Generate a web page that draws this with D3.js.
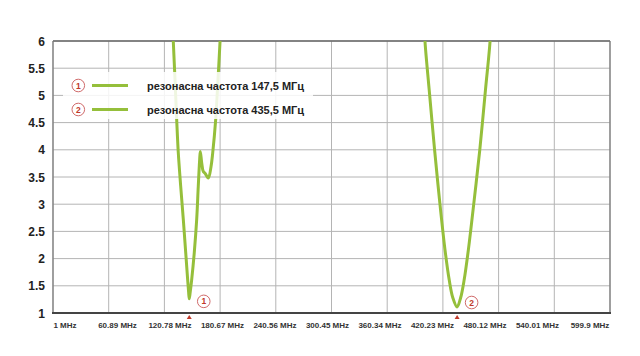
<!DOCTYPE html>
<html><head><meta charset="utf-8">
<script src="https://cdn.jsdelivr.net/npm/d3@7"></script>
<style>
html,body{margin:0;padding:0;background:#fff;}
svg{display:block;font-family:"Liberation Sans",Arial,sans-serif;}
</style></head>
<body><svg id="c" width="640" height="356"></svg>
<script>
// ---- data ----
const xTickValues = [1, 60.89, 120.78, 180.67, 240.56, 300.45, 360.34, 420.23, 480.12, 540.01, 599.9];
const xTickLabels = ["1 MHz","60.89 MHz","120.78 MHz","180.67 MHz","240.56 MHz","300.45 MHz","360.34 MHz","420.23 MHz","480.12 MHz","540.01 MHz","599.9 MHz"];
const yTickValues = [1,1.5,2,2.5,3,3.5,4,4.5,5,5.5,6];
const yTickLabels = ["1","1.5","2","2.5","3","3.5","4","4.5","5","5.5","6"];
// series 1 (MHz, VSWR)
const s1Freq = [130.0,130.35,132.2,134.0,135.7,138.3,141.1,143.7,145.8,146.8,147.5,148.5,150.1,152.9,155.5,157.2,158.7,159.4,160.9,162.6,164.4,168.0,170.9,172.7,175.9,178.4,180.6,181.0];
const s1Vswr = [6.21,5.99,5.29,4.55,3.95,3.33,2.72,2.11,1.61,1.39,1.26,1.38,1.61,2.11,2.72,3.33,3.82,3.97,3.76,3.60,3.57,3.48,3.69,3.94,4.55,5.29,5.99,6.21];
// series 2
const s2Freq = [400.6,401.0,405.5,411.3,416.6,422.5,427.0,430.9,435.5,439.3,443.1,447.6,453.9,459.9,466.0,470.9,471.3];
const s2Vswr = [6.21,5.99,5.10,4.00,3.08,2.16,1.61,1.28,1.11,1.28,1.61,2.16,3.08,4.00,5.10,5.99,6.21];
const markerFreq = [147.5, 435.5];
const markerVswr = [1.26, 1.11];
const markerIds = ["1","2"];
const legendLabels = ["резонасна частота 147,5 МГц","резонасна частота 435,5 МГц"];

// ---- layout ----
const svg = d3.select("#c");
const L=53, R=610, T=41, B=313;
const x = d3.scaleLinear().domain([1,599.9]).range([L,R]);
const y = d3.scaleLinear().domain([1,6]).range([B,T]);
const xl = d3.scalePoint().domain(xTickLabels).range([65,590]);
const green = "#95bf3b";

// grid
svg.append("g").selectAll("line").data(yTickValues).join("line")
  .attr("x1",L).attr("x2",R).attr("y1",d=>y(d)).attr("y2",d=>y(d))
  .attr("stroke","#b4b4b4").attr("stroke-width",1);
svg.append("g").selectAll("line").data(xTickValues).join("line")
  .attr("x1",d=>x(d)).attr("x2",d=>x(d)).attr("y1",T).attr("y2",B)
  .attr("stroke","#b4b4b4").attr("stroke-width",1);

// frame
svg.append("line").attr("x1",L).attr("x2",R).attr("y1",T).attr("y2",T).attr("stroke","#666").attr("stroke-width",1.5);
svg.append("line").attr("x1",R).attr("x2",R).attr("y1",T).attr("y2",B).attr("stroke","#777").attr("stroke-width",1.2);
svg.append("line").attr("x1",L).attr("x2",L).attr("y1",T).attr("y2",B).attr("stroke","#777").attr("stroke-width",1.2);
svg.append("line").attr("x1",L-1).attr("x2",R+1).attr("y1",B).attr("y2",B).attr("stroke","#444").attr("stroke-width",2);

// clip
svg.append("clipPath").attr("id","cp").append("rect").attr("x",L).attr("y",T).attr("width",R-L).attr("height",B-T);

const line = d3.line().x(d=>x(d[0])).y(d=>y(d[1])).curve(d3.curveCatmullRom.alpha(0.5));
const g = svg.append("g").attr("clip-path","url(#cp)");
[[s1Freq,s1Vswr],[s2Freq,s2Vswr]].forEach(([f,v])=>{
  g.append("path").datum(d3.zip(f,v)).attr("d",line)
   .attr("fill","none").attr("stroke",green).attr("stroke-width",3).attr("stroke-linejoin","round");
});

// legend box
svg.append("rect").attr("x",63).attr("y",72).attr("width",250).attr("height",47)
  .attr("fill","#fff").attr("opacity",0.85);
const lg = svg.append("g").selectAll("g").data(legendLabels).join("g")
  .attr("transform",(d,i)=>`translate(0,${85.5+i*24})`);
lg.append("circle").attr("cx",78.3).attr("cy",0).attr("r",6.3).attr("fill","#fff").attr("stroke","#d06a6a").attr("stroke-width",1);
lg.append("text").attr("x",78.3).attr("y",3).attr("text-anchor","middle").attr("font-size",8.5).attr("font-weight","bold").attr("fill","#c0392b").text((d,i)=>markerIds[i]);
lg.append("line").attr("x1",92).attr("x2",128).attr("y1",0).attr("y2",0).attr("stroke",green).attr("stroke-width",3);
lg.append("text").attr("x",147).attr("y",4).attr("font-size",11).attr("font-weight","bold").attr("fill","#222").text(d=>d);

// markers
const mk = svg.append("g").selectAll("g").data(markerFreq).join("g");
mk.append("path").attr("d",d=>`M${x(d)-2.5},${B+6}L${x(d)+2.5},${B+6}L${x(d)},${B+2}Z`).attr("fill","#c0392b");
mk.append("circle").attr("cx",d=>x(d)+14.5).attr("cy",(d,i)=>y(markerVswr[i])+2.5-(i?7:0)).attr("r",6.3)
  .attr("fill","#fff").attr("stroke","#d06a6a").attr("stroke-width",1);
mk.append("text").attr("x",d=>x(d)+14.5).attr("y",(d,i)=>y(markerVswr[i])+5.5-(i?7:0)).attr("text-anchor","middle")
  .attr("font-size",8.5).attr("font-weight","bold").attr("fill","#c0392b").text((d,i)=>markerIds[i]);

// y labels
svg.append("g").selectAll("text").data(yTickValues).join("text")
  .attr("x",45).attr("y",d=>y(d)+4.5).attr("text-anchor","end")
  .attr("font-size",12).attr("font-weight","bold").attr("fill","#222").text((d,i)=>yTickLabels[i]);
// x labels
svg.append("g").selectAll("text").data(xTickLabels).join("text")
  .attr("x",d=>xl(d)).attr("y",328).attr("text-anchor","middle")
  .attr("font-size",8).attr("font-weight","bold").attr("fill","#333").text(d=>d);
</script></body></html>
